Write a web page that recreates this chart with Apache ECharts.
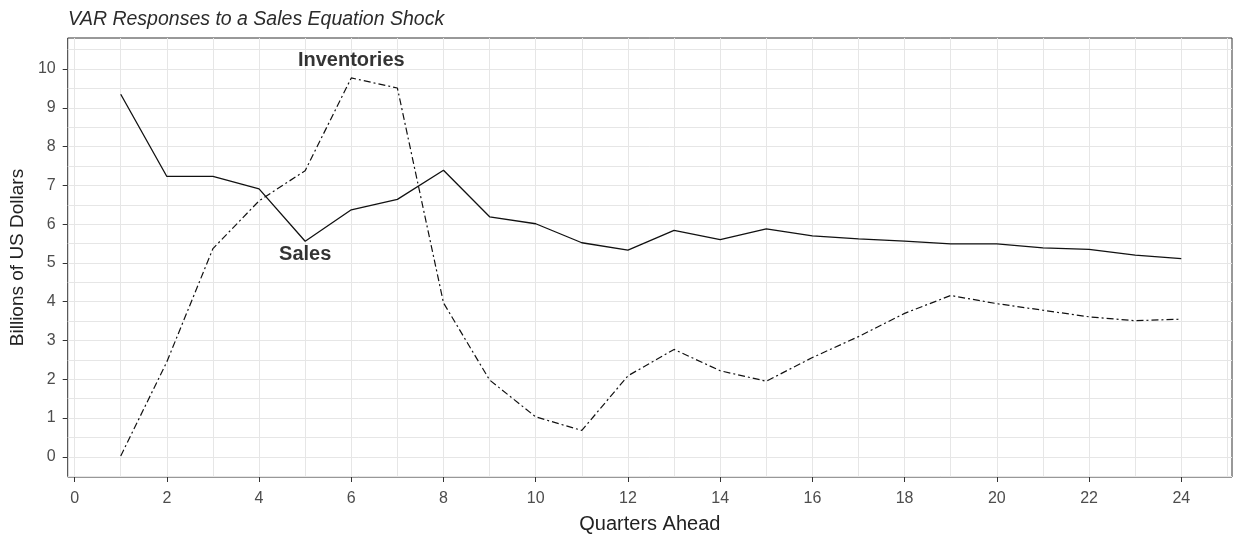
<!DOCTYPE html>
<html>
<head>
<meta charset="utf-8">
<script src="https://cdn.jsdelivr.net/npm/echarts@6/dist/echarts.min.js"></script>
<style>
  html, body { margin: 0; padding: 0; background: #fff; }
  #container { width: 1236px; height: 539px; }
</style>
</head>
<body>
<div id="container"></div>
<script>
const container = document.getElementById('container');
const chartIns = echarts.init(container, undefined, { renderer: 'canvas' });

// quarters ahead and the two impulse responses (billions of US dollars)
const quarters = [1, 2, 3, 4, 5, 6, 7, 8, 9, 10, 11, 12, 13, 14, 15, 16, 17, 18, 19, 20, 21, 22, 23, 24];
const sales = [9.35, 7.23, 7.23, 6.91, 5.56, 6.37, 6.64, 7.39, 6.19, 6.01, 5.52, 5.33, 5.84, 5.6, 5.88, 5.7, 5.62, 5.56, 5.49, 5.49, 5.39, 5.35, 5.2, 5.11];
const inventories = [0.02, 2.45, 5.37, 6.6, 7.38, 9.77, 9.51, 3.97, 1.98, 1.03, 0.68, 2.09, 2.77, 2.22, 1.95, 2.56, 3.1, 3.7, 4.16, 3.95, 3.78, 3.61, 3.51, 3.55];

// text annotations placed in data space
const noteNames = ['Inventories', 'Sales'];
const noteX = [6, 5];
const noteY = [10.22, 5.22];

// ticks and grid lines
const xTicks = [0, 2, 4, 6, 8, 10, 12, 14, 16, 18, 20, 22, 24];
const xGrid = [0, 1, 2, 3, 4, 5, 6, 7, 8, 9, 10, 11, 12, 13, 14, 15, 16, 17, 18, 19, 20, 21, 22, 23, 24, 25];
const yTicks = [0, 1, 2, 3, 4, 5, 6, 7, 8, 9, 10];
const yGrid = [-0.5, 0, 0.5, 1, 1.5, 2, 2.5, 3, 3.5, 4, 4.5, 5, 5.5, 6, 6.5, 7, 7.5, 8, 8.5, 9, 9.5, 10, 10.5];

const X_MIN = -0.15, X_MAX = 25.1;
const Y_MIN = -0.52, Y_MAX = 10.8;

const FONT = "'Liberation Sans', Arial, sans-serif";
const gridColor = '#e6e6e6';

const option = {
  backgroundColor: '#fff',
  animation: false,
  title: {
    text: 'VAR Responses to a Sales Equation Shock',
    left: 63,
    top: 5,
    textStyle: { fontFamily: FONT, fontStyle: 'italic', fontWeight: 'normal', fontSize: 19.5, color: '#2b2b2b' }
  },
  grid: {
    left: 66, right: 4, top: 38, bottom: 55,
    show: true, backgroundColor: '#fff', borderColor: '#333', borderWidth: 1
  },
  xAxis: [
    {
      type: 'value', min: X_MIN, max: X_MAX, position: 'bottom',
      name: 'Quarters Ahead', nameLocation: 'middle', nameGap: 37,
      nameTextStyle: { fontFamily: FONT, fontSize: 20, color: '#222' },
      axisLine: { show: false, onZero: false },
      axisTick: { show: true, customValues: xTicks, length: 5, lineStyle: { color: '#333' } },
      axisLabel: { customValues: xTicks, margin: 14, fontFamily: FONT, fontSize: 16, color: '#4d4d4d' },
      splitLine: { show: false }
    },
    {
      type: 'value', min: X_MIN, max: X_MAX, position: 'bottom',
      axisLine: { show: false, onZero: false },
      axisTick: { show: false, customValues: xGrid },
      axisLabel: { show: false, customValues: xGrid },
      splitLine: { show: true, lineStyle: { color: gridColor, width: 1 } }
    }
  ],
  yAxis: [
    {
      type: 'value', min: Y_MIN, max: Y_MAX, position: 'left',
      name: 'Billions of US Dollars', nameLocation: 'middle', nameGap: 33,
      nameTextStyle: { fontFamily: FONT, fontSize: 19, color: '#222' },
      axisLine: { show: false, onZero: false },
      axisTick: { show: true, customValues: yTicks, length: 5, lineStyle: { color: '#333' } },
      axisLabel: { customValues: yTicks, margin: 12, fontFamily: FONT, fontSize: 16, color: '#4d4d4d' },
      splitLine: { show: false }
    },
    {
      type: 'value', min: Y_MIN, max: Y_MAX, position: 'left',
      axisLine: { show: false, onZero: false },
      axisTick: { show: false, customValues: yGrid },
      axisLabel: { show: false, customValues: yGrid },
      splitLine: { show: true, lineStyle: { color: gridColor, width: 1 } }
    }
  ],
  series: [
    {
      name: 'Sales', type: 'line', xAxisIndex: 0, yAxisIndex: 0,
      symbol: 'none', silent: true,
      lineStyle: { color: '#111', width: 1.3, type: 'solid' },
      data: quarters.map((q, i) => [q, sales[i]])
    },
    {
      name: 'Inventories', type: 'line', xAxisIndex: 0, yAxisIndex: 0,
      symbol: 'none', silent: true,
      lineStyle: { color: '#111', width: 1.2, type: [7, 3, 2, 3] },
      data: quarters.map((q, i) => [q, inventories[i]])
    },
    {
      name: 'notes', type: 'scatter', xAxisIndex: 0, yAxisIndex: 0,
      symbolSize: 0, silent: true, z: 5,
      label: {
        show: true, position: 'inside',
        formatter: p => p.data[2],
        fontFamily: FONT, fontWeight: 'bold', fontSize: 20, color: '#000',
        textBorderWidth: 0
      },
      data: noteNames.map((n, i) => [noteX[i], noteY[i], n])
    }
  ]
};

chartIns.setOption(option);
</script>
</body>
</html>
